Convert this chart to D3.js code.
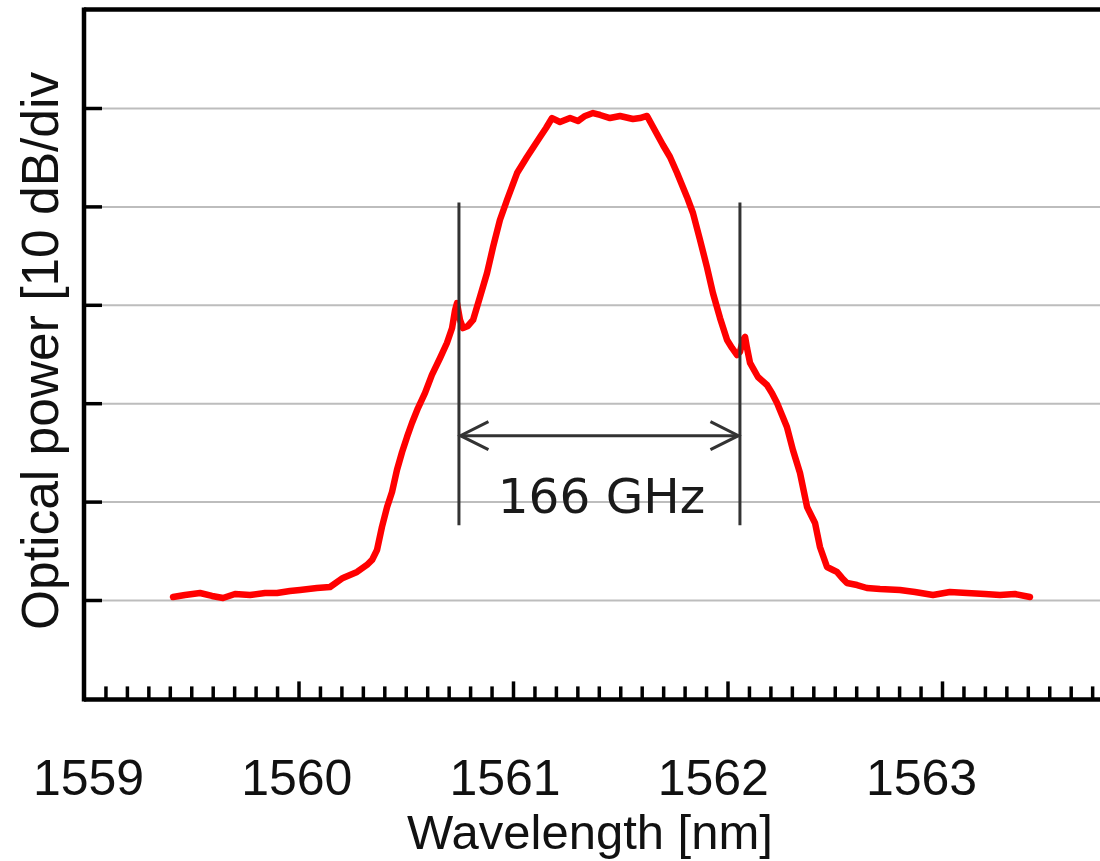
<!DOCTYPE html>
<html><head><meta charset="utf-8">
<script src="https://cdn.jsdelivr.net/npm/d3@7"></script>
<style>html,body{margin:0;padding:0;background:#fff;overflow:hidden}</style>
</head><body>
<svg id="c" width="1100" height="861"></svg>
<script>
// ---- data ----
const wavelength = [1559.415,1559.471,1559.541,1559.597,1559.648,1559.704,1559.774,1559.844,1559.900,1559.960,1560.007,1560.086,1560.147,1560.207,1560.273,1560.319,1560.343,1560.366,1560.389,1560.413,1560.436,1560.459,1560.483,1560.506,1560.529,1560.557,1560.590,1560.622,1560.660,1560.692,1560.716,1560.730,1560.739,1560.753,1560.767,1560.790,1560.814,1560.846,1560.879,1560.907,1560.939,1560.972,1561.019,1561.065,1561.126,1561.154,1561.182,1561.219,1561.266,1561.303,1561.336,1561.373,1561.406,1561.452,1561.499,1561.559,1561.592,1561.625,1561.653,1561.699,1561.732,1561.765,1561.811,1561.839,1561.872,1561.904,1561.932,1561.965,1561.998,1562.021,1562.044,1562.058,1562.072,1562.082,1562.091,1562.105,1562.142,1562.184,1562.207,1562.231,1562.254,1562.277,1562.305,1562.338,1562.371,1562.394,1562.408,1562.431,1562.464,1562.492,1562.510,1562.534,1562.557,1562.604,1562.650,1562.711,1562.804,1562.874,1562.958,1563.037,1563.117,1563.200,1563.270,1563.340,1563.410];
const powerDb = [-59.70,-59.49,-59.29,-59.59,-59.80,-59.39,-59.49,-59.29,-59.29,-59.09,-58.98,-58.78,-58.68,-57.76,-57.15,-56.44,-55.93,-54.92,-52.58,-50.55,-49.02,-46.79,-44.96,-43.43,-42.01,-40.49,-38.96,-37.13,-35.41,-33.88,-32.36,-30.53,-29.82,-31.54,-32.36,-32.15,-31.54,-29.21,-26.77,-24.13,-21.38,-19.35,-16.61,-14.98,-12.95,-12.03,-11.02,-11.42,-11.02,-11.32,-10.81,-10.51,-10.71,-11.02,-10.81,-11.12,-11.02,-10.81,-11.93,-13.76,-14.98,-16.61,-19.04,-20.67,-23.41,-26.16,-28.80,-31.34,-33.58,-34.39,-35.10,-34.80,-33.58,-33.27,-34.39,-35.91,-37.34,-38.15,-38.96,-39.98,-41.20,-42.42,-44.76,-47.09,-50.55,-51.57,-52.17,-54.61,-56.65,-56.95,-57.15,-57.76,-58.27,-58.48,-58.78,-58.88,-58.98,-59.19,-59.49,-59.19,-59.29,-59.39,-59.49,-59.39,-59.70];
const xMajorTicks = [1559,1560,1561,1562,1563];
const xTickLabels = ["1559","1560","1561","1562","1563"];
const yGridLevels = [-60,-50,-40,-30,-20,-10];
const markerWavelengths = [1560.748, 1562.058];
const markerRange = [-52.4, -19.6];
const arrowLevel = -43.3;
const bandwidthLabel = "166 GHz";
const xTitle = "Wavelength [nm]";
const yTitle = "Optical power [10 dB/div";

// ---- layout ----
const svg = d3.select("#c");
const plotLeft = 84, plotTop = 9.6, plotBottom = 698.4;
const x = d3.scaleLinear().domain([1559, 1564]).range([plotLeft, plotLeft + 5*214.5]);
const y = d3.scaleLinear().domain([-70, 0]).range([plotBottom, plotTop]);
const labelX = d3.scaleLinear().domain([1559, 1563]).range([88.5, 921.5]);
const W = 1100;

svg.append("rect").attr("width", 1100).attr("height", 861).attr("fill", "#fff");

// gridlines
svg.append("g").attr("transform", `translate(${plotLeft},0)`)
  .call(d3.axisLeft(y).tickValues(yGridLevels).tickSize(-(W-plotLeft)).tickFormat(""))
  .call(g => g.select(".domain").remove())
  .call(g => g.selectAll("line").attr("stroke", "#bdbdbd").attr("stroke-width", 2));

// y ticks (inside)
svg.append("g").attr("transform", `translate(${plotLeft},0)`)
  .call(d3.axisLeft(y).tickValues(yGridLevels).tickSize(-18).tickFormat(""))
  .call(g => g.select(".domain").remove())
  .call(g => g.selectAll("line").attr("stroke", "#000").attr("stroke-width", 3.5));

// x minor ticks
const minor = d3.range(1, 50).map(i => 1559 + i/10).filter(v => Math.abs(v - Math.round(v)) > 1e-6);
svg.append("g").attr("transform", `translate(0,${plotBottom})`)
  .call(d3.axisBottom(x).tickValues(minor).tickSize(-12).tickFormat(""))
  .call(g => g.select(".domain").remove())
  .call(g => g.selectAll("line").attr("stroke", "#000").attr("stroke-width", 3.5));
svg.append("g").attr("transform", `translate(0,${plotBottom})`)
  .call(d3.axisBottom(x).tickValues(xMajorTicks.slice(1)).tickSize(-17).tickFormat(""))
  .call(g => g.select(".domain").remove())
  .call(g => g.selectAll("line").attr("stroke", "#000").attr("stroke-width", 3.5));

// frame
const frame = svg.append("g").attr("stroke", "#000").attr("stroke-width", 4.5).attr("fill", "none");
frame.append("line").attr("x1", plotLeft).attr("x2", W).attr("y1", plotTop).attr("y2", plotTop);
frame.append("line").attr("x1", plotLeft).attr("x2", W).attr("y1", plotBottom+1).attr("y2", plotBottom+1);
frame.append("line").attr("x1", plotLeft).attr("x2", plotLeft).attr("y1", plotTop-2).attr("y2", plotBottom+3);

// curve
const pts = wavelength.map((w, i) => [w, powerDb[i]]);
svg.append("path").datum(pts)
  .attr("d", d3.line().x(d => x(d[0])).y(d => y(d[1])))
  .attr("fill", "none").attr("stroke", "#ff0000").attr("stroke-width", 6.5)
  .attr("stroke-linejoin", "round").attr("stroke-linecap", "round");

// annotation
const ann = svg.append("g").attr("stroke", "#333").attr("stroke-width", 3).attr("fill", "none");
markerWavelengths.forEach(w => {
  ann.append("line").attr("x1", x(w)).attr("x2", x(w)).attr("y1", y(markerRange[0])).attr("y2", y(markerRange[1]));
});
const ax1 = x(markerWavelengths[0]) + 1.5, ax2 = x(markerWavelengths[1]) - 1.5, ay = y(arrowLevel);
ann.append("line").attr("x1", ax1).attr("x2", ax2).attr("y1", ay).attr("y2", ay);
ann.append("path").attr("d", `M${ax1+28},${ay-14}L${ax1},${ay}L${ax1+28},${ay+14}`).attr("stroke-linejoin","miter");
ann.append("path").attr("d", `M${ax2-28},${ay-14}L${ax2},${ay}L${ax2-28},${ay+14}`).attr("stroke-linejoin","miter");
svg.append("text").attr("x", (x(markerWavelengths[0]) + x(markerWavelengths[1]))/2 + 2).attr("y", 513)
  .attr("text-anchor", "middle").attr("font-family", "DejaVu Sans, Verdana, sans-serif")
  .attr("font-size", 48.5).attr("fill", "#1a1a1a").text(bandwidthLabel);

// x tick labels
svg.append("g").selectAll("text").data(xMajorTicks).join("text")
  .attr("x", d => labelX(d)).attr("y", 795)
  .attr("text-anchor", "middle").attr("font-family", "Liberation Sans, Arial, sans-serif")
  .attr("font-size", 50).attr("fill", "#111").text((d, i) => xTickLabels[i]);

// titles
svg.append("text").attr("x", 590).attr("y", 849).attr("text-anchor", "middle")
  .attr("font-family", "Liberation Sans, Arial, sans-serif").attr("font-size", 49).attr("fill", "#111").text(xTitle);
svg.append("text").attr("transform", "translate(58,630) rotate(-90)").attr("text-anchor", "start")
  .attr("font-family", "Liberation Sans, Arial, sans-serif").attr("font-size", 51.5).attr("fill", "#111").text(yTitle);
</script>
</body></html>
